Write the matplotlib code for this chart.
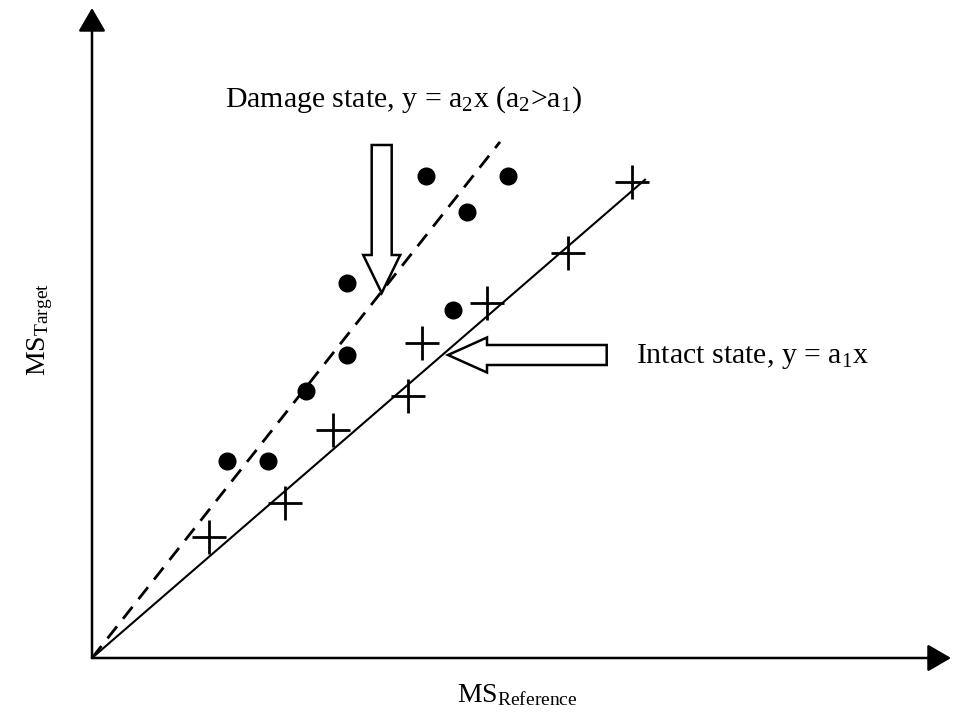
import matplotlib
matplotlib.use("Agg")
import matplotlib.pyplot as plt
from matplotlib.patches import FancyArrow

plt.rcParams['font.family'] = ['Liberation Serif', 'DejaVu Serif']
plt.rcParams['mathtext.fontset'] = 'custom'
plt.rcParams['mathtext.rm'] = 'Liberation Serif'
plt.rcParams['mathtext.it'] = 'Liberation Serif'

# intact state points (plus markers)
intact_x = [1.17, 1.93, 2.41, 3.16, 3.30, 3.95, 4.76, 5.40]
intact_y = [1.21, 1.55, 2.28, 2.62, 3.15, 3.55, 4.05, 4.76]

# damage state points (dots)
damage_x = [1.35, 1.76, 2.14, 2.55, 2.55, 3.34, 3.61, 3.75, 4.16]
damage_y = [1.97, 1.97, 2.67, 3.03, 3.75, 4.82, 3.48, 4.46, 4.82]

# slopes of the fitted lines
a1 = 0.865
a2 = 1.265
x_end_intact = 5.53
x_end_damage = 4.08

fig = plt.figure(figsize=(9.55, 7.23), dpi=100)
ax = fig.add_axes([0, 0, 1, 1])
ax.set_xlim(-0.92, 8.63)
ax.set_ylim(-0.65, 6.58)
ax.axis('off')

# axes with arrow heads
arrow_kw = dict(arrowstyle='-|>,head_length=0.72,head_width=0.42', lw=1.8,
                color='black', shrinkA=0, shrinkB=0, mutation_scale=20)
ax.annotate('', xy=(0, 6.50), xytext=(0, 0), arrowprops=arrow_kw)
ax.annotate('', xy=(8.59, 0), xytext=(0, 0), arrowprops=arrow_kw)

# fitted lines
ax.plot([0, x_end_intact], [0, a1 * x_end_intact], color='black', lw=1.5)
ax.plot([0, x_end_damage], [0, a2 * x_end_damage], color='black', lw=2,
        dashes=(5.5, 3.5))

# data points
ax.plot(intact_x, intact_y, '+', color='black', ms=24, mew=2)
ax.plot(damage_x, damage_y, 'o', color='black', ms=12)

# hollow pointer arrows
ax.add_patch(FancyArrow(2.897, 5.13, 0, -1.48, width=0.20, head_width=0.37,
                        head_length=0.38, length_includes_head=True,
                        facecolor='white', edgecolor='black', lw=1.8))
ax.add_patch(FancyArrow(5.147, 3.03, -1.587, 0, width=0.20, head_width=0.35,
                        head_length=0.39, length_includes_head=True,
                        facecolor='white', edgecolor='black', lw=1.8))

# labels
ax.text(1.33, 5.58, r'Damage state, y = a$_2$x (a$_2$>a$_1$)', fontsize=21.5,
        va='center', ha='left')
ax.text(5.44, 3.02, r'Intact state, y = a$_1$x', fontsize=21.5,
        va='center', ha='left')
ax.text(-0.52, 3.28, r'MS$_{\mathrm{Target}}$', fontsize=20, rotation=90,
        va='center', ha='center')
ax.text(4.25, -0.37, r'MS$_{\mathrm{Reference}}$', fontsize=20,
        va='center', ha='center')

fig.savefig('out.png', dpi=100)
